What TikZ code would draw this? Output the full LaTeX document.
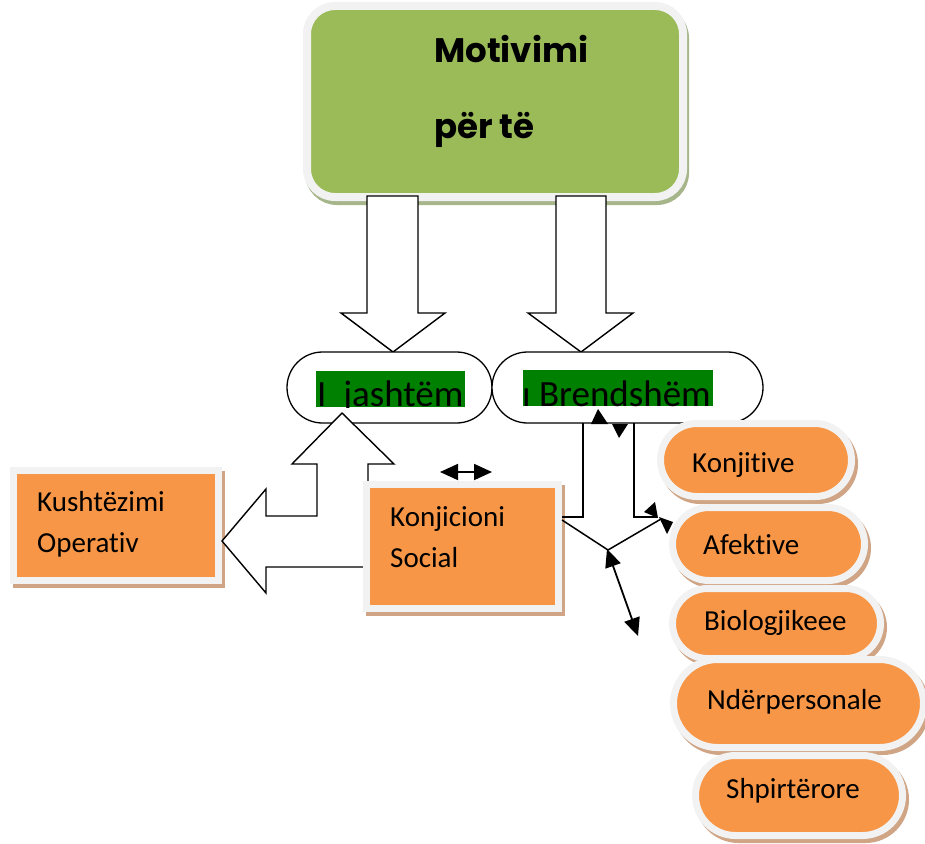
\documentclass[tikz,border=0pt]{standalone}
\usepackage{fontspec}
\setmainfont{Carlito}[RawFeature={-liga;-clig;-calt;-dlig}]
\newfontfamily\popfont{Poppins}
\usetikzlibrary{shadows,arrows.meta}
\definecolor{greenF}{HTML}{9BBB59}
\definecolor{orangeF}{HTML}{F79646}
\definecolor{borderG}{HTML}{F2F2F2}
\definecolor{tanS}{HTML}{CFA586}
\definecolor{greenS}{HTML}{A6B58A}
\definecolor{hiG}{HTML}{008000}
\tikzset{
  obox/.style={rectangle, inner sep=0pt, outer sep=0pt, fill=orangeF, draw=borderG, line width=7pt,
     drop shadow={shadow xshift=3pt, shadow yshift=-4pt, fill=tanS, draw=tanS, opacity=1}},
  wpill/.style={rectangle, inner sep=0pt, outer sep=0pt, rounded corners=35.5pt, minimum height=71pt,
     draw=black, line width=1.3pt, fill=white},
  hollow/.style={draw=black, fill=white, line width=1.4pt, line join=miter},
  txt/.style={anchor=base west, inner sep=0pt, font=\fontsize{29}{35}\selectfont},
  bigtxt/.style={anchor=base west, inner sep=0pt, font=\fontsize{37}{44}\selectfont},
  ttl/.style={anchor=base west, inner sep=0pt, font=\popfont\bfseries\fontsize{34}{40}\selectfont},
  conn/.style={line width=1.5pt},
  tipk/.tip={Triangle[length=18pt,width=16pt]},
  darr/.style={line width=1.8pt, tipk-tipk},
}
\begin{document}
\begin{tikzpicture}[x=1pt,y=-1pt]
\useasboundingbox (0,0) rectangle (925,843);

% title box
\node[rectangle, inner sep=0pt, outer sep=0pt, rounded corners=28pt, minimum width=376pt, minimum height=191pt,
      fill=greenF, draw=borderG, line width=8pt,
      drop shadow={shadow xshift=2pt, shadow yshift=-4pt, fill=greenS, draw=greenS, opacity=1}]
      (motiv) at (495,101.5) {};
\node[ttl] (tm1) at (434,63) {Motivimi};
\node[ttl] (tm2) at (434,138) {për të};

% hollow arrows down
\path[hollow] (367,196) -- (367,313) -- (341,313) -- (393,352) -- (445,313) -- (418,313) -- (418,196) -- cycle;
\path[hollow] (556,196) -- (556,313) -- (528,313) -- (581,352) -- (633,313) -- (606,313) -- (606,196) -- cycle;

% white pills
\node[wpill, minimum width=205pt] (ext) at (389.5,387.5) {};
\node[wpill, minimum width=271pt] (brend) at (627.5,387.5) {};
\fill[hiG] (316,371) rectangle (465,407);
\fill[hiG] (523,370) rectangle (713,406);
\begin{scope}
\clip (300,360) rectangle (480,407);
\node[bigtxt] (text) at (317,406) {I\ \ jashtëm};
\end{scope}
\begin{scope}
\clip (515,360) rectangle (720,406);
\node[bigtxt] (tbrend) at (522,406) {ı Brendshëm};
\end{scope}

% Kushtezimi box
\node[obox, minimum width=205pt, minimum height=110pt] (kush) at (115.5,525) {};
\node[txt] (tk1) at (37,511) {Kushtëzimi};
\node[txt] (tk2) at (37,552) {Operativ};

% L-shaped hollow arrow
\path[hollow] (368,567) -- (266,567) -- (266,593) -- (222,541) -- (266,489) -- (266,516) -- (317,516)
   -- (317,464) -- (292,464) -- (342,413) -- (394,464) -- (368,464) -- (368,486);

% Konjicioni box
\node[obox, minimum width=192pt, minimum height=124pt] (konj) at (462,546) {};
\node[txt] (tc1) at (390,526) {Konjicioni};
\node[txt] (tc2) at (390,567) {Social};

% right pills
\node[obox, rounded corners=36.5pt, minimum width=191pt, minimum height=73pt] (p1) at (756,460) {};
\node[txt] (tp1) at (692,472) {Konjitive};
\node[obox, rounded corners=36.5pt, minimum width=192pt, minimum height=73pt] (p2) at (768.5,544) {};
\node[txt] (tp2) at (703,554) {Afektive};
\node[obox, rounded corners=35pt, minimum width=208pt, minimum height=70pt] (p3) at (776.5,623.5) {};
\node[txt] (tp3) at (704,630) {Biologjikeee};
\node[obox, rounded corners=44pt, minimum width=250pt, minimum height=88pt] (p4) at (798.5,703.5) {};
\node[txt] (tp4) at (707,709) {Ndërpersonale};
\node[obox, rounded corners=40pt, minimum width=207pt, minimum height=80pt] (p5) at (799,795.5) {};
\node[txt] (tp5) at (726,798) {Shpirtërore};

% connectors
\coordinate (a1) at (440,472);
\coordinate (a2) at (492,472);
\draw[darr] (a1) -- (a2);

\draw[conn] (583,423) -- (583,517) -- (562,517);
\draw[conn] (634,423) -- (634,517) -- (657,517);
\coordinate (j1) at (562,520);
\coordinate (j2) at (608,550);
\coordinate (j3) at (661,519);
\draw[conn] (j1) -- (j2) -- (j3);
\coordinate (b1) at (607,549);
\coordinate (b2) at (638,636);
\draw[darr] (b1) -- (b2);

% stray arrow heads
\fill (591,424) -- (598,409) -- (608,424) -- cycle;
\fill (612,424) -- (628,424) -- (619,438) -- cycle;
\fill (644,512) -- (655,502) -- (658,518) -- cycle;
\fill (659,517) -- (673,522) -- (667,534) -- cycle;
\end{tikzpicture}
\end{document}
